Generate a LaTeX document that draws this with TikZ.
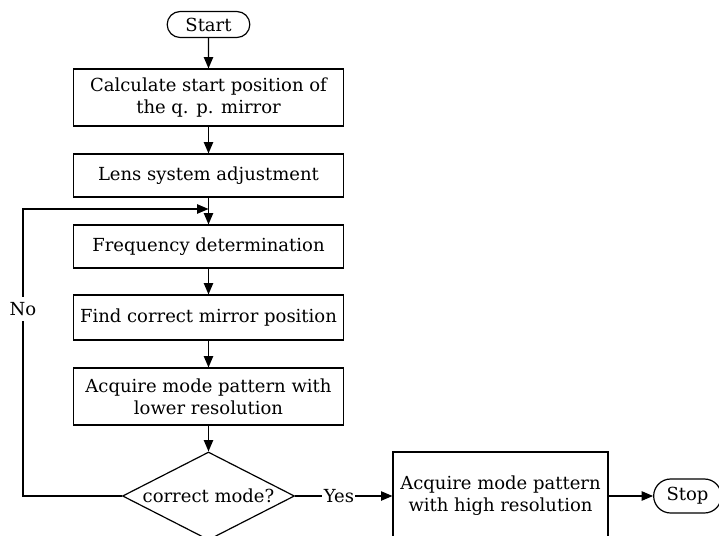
\documentclass[tikz,border=0pt]{standalone}
\usepackage{fontspec}
\setmainfont{DejaVu Serif}
\usepackage{tikz}
\usetikzlibrary{shapes.geometric,shapes.misc,arrows.meta}

\begin{document}
\begin{tikzpicture}
[
x=0.75pt, y=-0.75pt,
line width=0.9pt,
every node/.style={font=\fontsize{13.5}{16.5}\selectfont, align=center},
proc/.style={rectangle, draw, minimum width=203pt, inner sep=2pt},
term/.style={rounded rectangle, draw, inner sep=2pt},
test/.style={diamond, draw, aspect=2, minimum width=129pt, minimum height=66pt, inner sep=0pt},
>={Triangle[length=8.5pt,width=7pt]}
]
\useasboundingbox (0,0) rectangle (719,536);
\clip (0,0) rectangle (719,536);

\node[term, minimum width=66pt, minimum height=19.5pt] (start) at (208.5,24.5) {Start};
\node[proc, minimum height=42.75pt] (calc) at (208.5,97.5) {Calculate start position of\\the q. p. mirror};
\node[proc, minimum height=32.25pt] (lens) at (208.5,175.5) {Lens system adjustment};
\node[proc, minimum height=32.25pt] (freq) at (208.5,246.5) {Frequency determination};
\node[proc, minimum height=33.75pt] (find) at (208.5,317.5) {Find correct mirror position};
\node[proc, minimum height=42.75pt] (low) at (208.5,396.5) {Acquire mode pattern with\\lower resolution};
\node[test] (check) at (208.5,496) {correct mode?};
\node[proc, minimum width=161.25pt, minimum height=66pt] (high) at (500.5,496) {Acquire mode pattern\\with high resolution};
\node[term, minimum width=54.75pt, minimum height=25.5pt] (stop) at (687.5,496) {Stop};

\coordinate (corner) at (23,209);
\coordinate (merge) at (208.5,209);

\draw[->] (start) -- (calc);
\draw[->] (calc) -- (lens);
\draw[->] (lens) -- (freq);
\draw[->] (freq) -- (find);
\draw[->] (find) -- (low);
\draw[->] (low) -- (check);
\draw[->] (check.west) -| node[pos=0.826, fill=white, inner sep=4pt] {No} (corner) -- (merge);
\draw[->] (check.east) -- node[pos=0.45, fill=white, inner sep=1pt] {Yes} (high.west);
\draw[->] (high) -- (stop);
\end{tikzpicture}
\end{document}
